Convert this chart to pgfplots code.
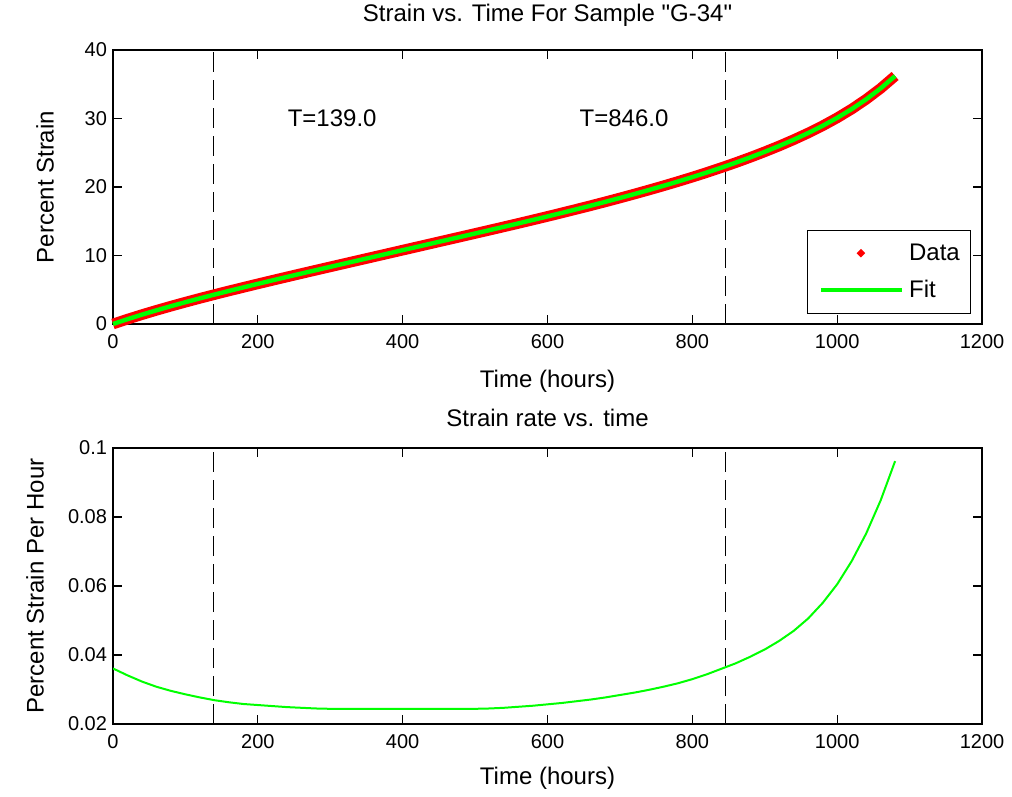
\documentclass[border=0pt]{standalone}
\usepackage{pgfplots}
\pgfplotsset{compat=1.18}
\usepackage{pgfplotstable}
\usepackage{fontspec}
\setmainfont{Liberation Sans}
\newfontfamily\qfont{Liberation Sans}[Ligatures=TeXOff]
\definecolor{mgreen}{RGB}{0,255,0}
\definecolor{mred}{RGB}{255,0,0}

\pgfplotstableread{
t strain rate
0 0 0.0361
20 0.702 0.0341
40 1.366 0.0323
60 1.997 0.0308
80 2.601 0.0296
100 3.183 0.0286
120 3.746 0.0277
140 4.292 0.0269
160 4.824 0.0263
180 5.345 0.0258
200 5.858 0.0255
220 6.365 0.0252
240 6.866 0.0249
260 7.362 0.0247
280 7.854 0.0245
300 8.343 0.0244
320 8.831 0.02435
340 9.318 0.02435
360 9.805 0.02435
380 10.292 0.02435
400 10.779 0.02435
420 11.266 0.02435
440 11.753 0.02435
460 12.240 0.02435
480 12.727 0.02435
500 13.214 0.0244
520 13.703 0.0245
540 14.195 0.0247
560 14.692 0.0250
580 15.195 0.0253
600 15.705 0.0257
620 16.223 0.0261
640 16.750 0.0266
660 17.287 0.0271
680 17.835 0.0277
700 18.396 0.0284
720 18.971 0.0291
740 19.561 0.0299
760 20.168 0.0308
780 20.794 0.0318
800 21.442 0.0330
820 22.116 0.0344
840 22.820 0.0360
860 23.556 0.0376
880 24.327 0.0395
900 25.138 0.0416
920 25.995 0.0441
940 26.906 0.0470
960 27.882 0.0506
980 28.939 0.0551
1000 30.095 0.0605
1020 31.372 0.0672
1040 32.796 0.0752
1060 34.396 0.0848
1080 36.206 0.0962
}\datatable

\pgfplotsset{
  mlab/.style={
    scale only axis,
    width=651.75pt,
    xmin=0, xmax=1200,
    xtick={0,200,400,600,800,1000,1200},
    xticklabels={0,200,400,600,800,1000,1200},
    xtick pos=both, ytick pos=both,
    tick align=inside,
    major tick length=6.5pt,
    axis line style={line width=0.9pt},
    every tick/.style={black, line width=0.9pt},
    /pgf/number format/assume math mode=true,
    tick label style={font=\fontsize{15}{18}\selectfont},
    xticklabel style={yshift=-4pt},
    yticklabel style={xshift=-1pt},
    label style={font=\fontsize{18}{21}\selectfont},
    title style={font=\fontsize{18}{21}\selectfont},
    every axis title shift=0pt,
  },
  vdash/.style={black, line width=1pt, dash pattern=on 15pt off 6pt, forget plot},
}

\begin{document}
\begin{tikzpicture}
\useasboundingbox (0,0) rectangle (759pt,597pt);
\begin{axis}[mlab,
  at={(84.75pt,354pt)}, anchor=south west,
  height=205.5pt,
  ymin=0, ymax=40,
  ytick={0,10,20,30,40},
  clip=false,
  title={Strain vs. Time For Sample {\qfont\symbol{34}}G-34{\qfont\symbol{34}}},
  title style={at={(axis description cs:0.5,1.1265)}, anchor=center},
  xlabel={Time (hours)},
  xlabel style={at={(axis description cs:0.5,-0.209)}, anchor=center},
  ylabel={Percent Strain},
  ylabel style={at={(axis description cs:-0.0783,0.5)}, anchor=center},
  legend style={at={(rel axis cs:0.9873,0.343)}, anchor=north east,
    draw=black, line width=0.8pt, fill=white,
    font=\fontsize{18}{21}\selectfont,
    inner xsep=6pt, inner ysep=8pt, row sep=9.5pt,
    /tikz/every odd column/.append style={column sep=2pt}},
  legend cell align=left,
]
\addplot[vdash] coordinates {(139,0) (139,40)};
\addplot[vdash] coordinates {(846,0) (846,40)};
\addplot[mred, line width=8pt, line join=round, mark=none,
  legend image code/.code={
    \path[draw=none, fill=none] (0pt,-1pt) rectangle (66pt,1pt);
    \path[draw=none, fill=mred] (34pt,0pt) +(-3.2pt,0pt) -- +(0pt,3.2pt) -- +(3.2pt,0pt) -- +(0pt,-3.2pt) -- cycle;
  }] table[x=t, y=strain] {\datatable};
\addlegendentry{Data}
\addplot[mgreen, line width=3.3pt, line join=round, mark=none,
  legend image code/.code={
    \path[draw=none, fill=none] (0pt,-1pt) rectangle (66pt,1pt);
    \draw[mgreen, line width=3.3pt] (4pt,0pt) -- (64.5pt,0pt);
  }] table[x=t, y=strain] {\datatable};
\addlegendentry{Fit}
\node[anchor=west, inner sep=0pt, font=\fontsize{18}{21}\selectfont] at (axis cs:241,30) {T=139.0};
\node[anchor=west, inner sep=0pt, font=\fontsize{18}{21}\selectfont] at (axis cs:644,30) {T=846.0};
\end{axis}

\begin{axis}[mlab,
  at={(84.75pt,54pt)}, anchor=south west,
  height=207pt,
  ymin=0.02, ymax=0.1,
  ytick={0.02,0.04,0.06,0.08,0.1},
  yticklabels={0.02,0.04,0.06,0.08,0.1},
  title={Strain rate vs. time},
  title style={at={(axis description cs:0.5,1.1087)}, anchor=center},
  xlabel={Time (hours)},
  xlabel style={at={(axis description cs:0.5,-0.196)}, anchor=center},
  ylabel={Percent Strain Per Hour},
  ylabel style={at={(axis description cs:-0.0898,0.5)}, anchor=center},
]
\addplot[vdash] coordinates {(139,0.02) (139,0.1)};
\addplot[vdash] coordinates {(846,0.02) (846,0.1)};
\addplot[mgreen, line width=1.5pt, line join=round, mark=none] table[x=t, y=rate] {\datatable};
\end{axis}
\end{tikzpicture}
\end{document}
